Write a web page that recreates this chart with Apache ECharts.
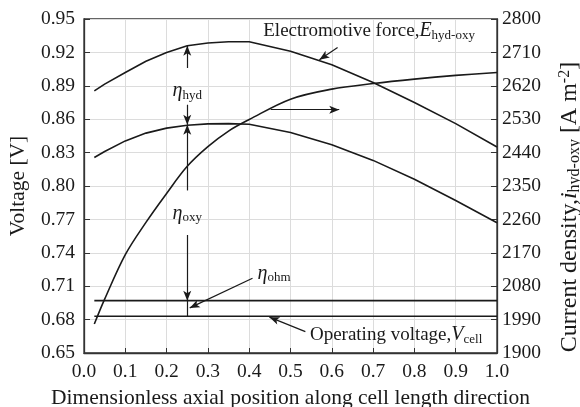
<!DOCTYPE html>
<html>
<head>
<meta charset="utf-8">
<script src="https://cdn.jsdelivr.net/npm/echarts@6/dist/echarts.min.js"></script>
<style>
    html, body { margin: 0; padding: 0; background: #fff; }
    #chart { width: 580px; height: 407px; }
</style>
</head>
<body>
<div id="chart"></div>
<script>
// axial positions (dimensionless) where the curves were read
const xPos = [0.025, 0.05, 0.1, 0.15, 0.2, 0.25, 0.3, 0.35, 0.4, 0.5, 0.6, 0.7, 0.8, 0.9, 1.0]
// electromotive force E_hyd-oxy [V]
const emfV = [0.8855, 0.8915, 0.902, 0.912, 0.920, 0.926, 0.9285, 0.9295, 0.9295, 0.921, 0.909, 0.893, 0.875, 0.856, 0.835]
// E minus hydrogen-side overpotential [V]
const afterHydV = [0.8256, 0.831, 0.8405, 0.8475, 0.852, 0.8545, 0.8558, 0.856, 0.8555, 0.848, 0.837, 0.823, 0.806, 0.787, 0.767]
// current density i_hyd-oxy [A m-2]
const currentI = [1978, 2045, 2165, 2252, 2330, 2403, 2456, 2498, 2529, 2584, 2611, 2626, 2638, 2648, 2656]
// flat lines
const flatX = [0.025, 1.0]
const ohmV = [0.697, 0.697]
const cellV = [0.683, 0.683]

const serif = '"Liberation Serif", "DejaVu Serif", serif'
const ink = '#1a1a1a'

const pairs = (xs, ys) => xs.map((x, i) => [x, ys[i]])

const rich = {
    t: { fontFamily: serif, fontSize: 19, color: ink, lineHeight: 22 },
    g: { fontFamily: serif, fontSize: 20, fontStyle: 'italic', color: ink, lineHeight: 22 },
    s: { fontFamily: serif, fontSize: 13, color: ink, verticalAlign: 'bottom', lineHeight: 12 },
    p: { fontFamily: serif, fontSize: 13, color: ink, verticalAlign: 'top', lineHeight: 12 }
}

// bigger set for the right axis title
const richBig = {
    t: { fontFamily: serif, fontSize: 24, color: ink, lineHeight: 26 },
    g: { fontFamily: serif, fontSize: 24, fontStyle: 'italic', color: ink, lineHeight: 26 },
    s: { fontFamily: serif, fontSize: 16, color: ink, verticalAlign: 'bottom', lineHeight: 14 },
    p: { fontFamily: serif, fontSize: 16, color: ink, verticalAlign: 'top', lineHeight: 14 }
}

const curve = (name, data, yIdx, smooth) => ({
    name: name,
    type: 'line',
    yAxisIndex: yIdx,
    data: data,
    smooth: smooth,
    showSymbol: false,
    symbol: 'none',
    lineStyle: { color: ink, width: 1.6 },
    silent: true
})

// arrow segments in voltage coordinates: [x1, y1, x2, y2, arrowAtStart, arrowAtEnd]
const arrows = [
    [0.25, 0.906, 0.25, 0.926, false, true],
    [0.25, 0.873, 0.25, 0.855, false, true],
    [0.25, 0.796, 0.25, 0.855, false, true],
    [0.25, 0.756, 0.25, 0.697, false, true],
    [0.25, 0.697, 0.25, 0.683, false, false],
    [0.408, 0.7172, 0.256, 0.6905, false, true],
    [0.536, 0.6692, 0.449, 0.6822, false, true],
    [0.614, 0.9243, 0.570, 0.9135, false, true],
    [0.452, 0.8685, 0.618, 0.8685, false, true]
]

const labels = [
    { coord: [0.25, 0.8855], text: '{g|η}{s|hyd}', pos: 'inside' },
    { coord: [0.25, 0.7755], text: '{g|η}{s|oxy}', pos: 'inside' },
    { coord: [0.46, 0.7215], text: '{g|η}{s|ohm}', pos: 'inside' },
    { coord: [0.547, 0.6665], text: '{t|Operating voltage,}{g|V}{s|cell}', pos: 'right' },
    { coord: [0.434, 0.9395], text: '{t|Electromotive force,}{g|E}{s|hyd-oxy}', pos: 'right' }
]

onload = () => {
    let myChart = echarts.init(document.getElementById('chart'))
    let option

    let series = [
        curve('emf', pairs(xPos, emfV), 0, false),
        curve('afterHyd', pairs(xPos, afterHydV), 0, false),
        curve('current', pairs(xPos, currentI), 1, 0.35),
        curve('ohm', pairs(flatX, ohmV), 0, false),
        curve('cell', pairs(flatX, cellV), 0, false),
        {
            name: 'notes',
            type: 'line',
            yAxisIndex: 0,
            data: [],
            silent: true,
            markLine: {
                silent: true,
                animation: false,
                symbol: ['none', 'arrow'],
                symbolSize: [6, 10],
                label: { show: false },
                lineStyle: { color: ink, width: 1.2, type: 'solid' },
                emphasis: { disabled: true },
                data: arrows.map(a => [
                    { coord: [a[0], a[1]], symbol: a[4] ? 'arrow' : 'none' },
                    { coord: [a[2], a[3]], symbol: a[5] ? 'arrow' : 'none' }
                ])
            },
            markPoint: {
                silent: true,
                animation: false,
                symbol: 'circle',
                symbolSize: 0,
                data: labels.map(l => ({
                    coord: l.coord,
                    label: {
                        show: true,
                        position: l.pos,
                        distance: 0,
                        formatter: l.text,
                        rich: rich
                    }
                }))
            }
        }
    ]

    option = {
        animation: false,
        backgroundColor: '#fff',
        grid: {
            left: 84, right: 83, top: 19, bottom: 54,
            containLabel: false,
            outerBoundsMode: 'none',
            show: true,
            borderColor: '#333',
            borderWidth: 1.3
        },
        xAxis: {
            type: 'value',
            min: 0, max: 1, interval: 0.1,
            name: 'Dimensionless axial position along cell length direction',
            nameLocation: 'middle',
            nameGap: 28,
            nameTextStyle: { fontFamily: serif, fontSize: 21.5, color: ink },
            axisLine: { lineStyle: { color: '#333', width: 1.3 } },
            axisTick: { inside: true, length: 5, lineStyle: { color: '#333' } },
            axisLabel: { fontFamily: serif, fontSize: 19.5, color: ink, margin: 9, formatter: v => v.toFixed(1) },
            splitLine: { show: true, lineStyle: { color: '#dcdcdc', width: 1 } }
        },
        yAxis: [
            {
                type: 'value',
                min: 0.65, max: 0.95, interval: 0.03,
                name: 'Voltage [V]',
                nameLocation: 'middle',
                nameGap: 55,
                nameTextStyle: { fontFamily: serif, fontSize: 21.5, color: ink },
                axisLine: { show: true, lineStyle: { color: '#333', width: 1.3 } },
                axisTick: { show: true, inside: true, length: 6, lineStyle: { color: '#333' } },
                axisLabel: { fontFamily: serif, fontSize: 19.5, color: ink, margin: 9, formatter: v => v.toFixed(2) },
                splitLine: { show: true, lineStyle: { color: '#dcdcdc', width: 1 } }
            },
            {
                type: 'value',
                position: 'right',
                min: 1900, max: 2800, interval: 90,
                name: '{t|Current density,}{g|i}{s|hyd-oxy}{t| [A m}{p|-2}{t|]}',
                nameLocation: 'middle',
                nameRotate: 90,
                nameGap: 60,
                nameTextStyle: { rich: richBig, padding: [0, 42, 0, 0] },
                axisLine: { show: true, lineStyle: { color: '#333', width: 1.3 } },
                axisTick: { show: true, inside: true, length: 6, lineStyle: { color: '#333' } },
                axisLabel: { fontFamily: serif, fontSize: 19.5, color: ink, margin: 5, formatter: v => Math.round(v).toString() },
                splitLine: { show: false }
            }
        ],
        series: series
    }

    option && myChart.setOption(option)
}
</script>
</body>
</html>
